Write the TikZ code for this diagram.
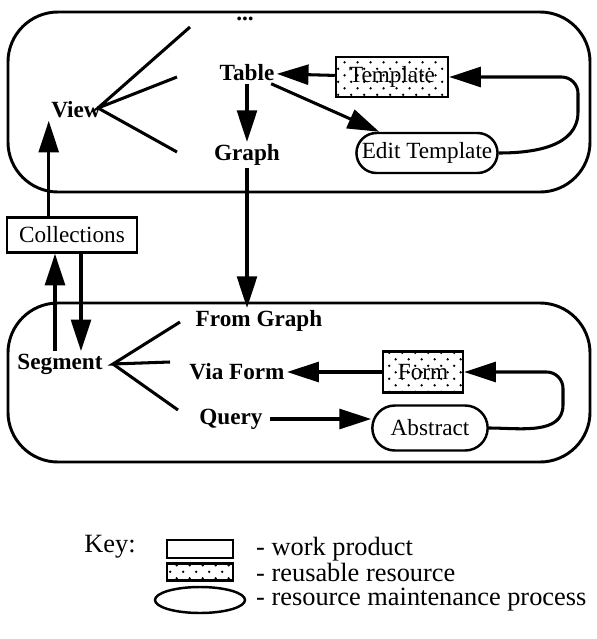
\documentclass[tikz,border=0pt]{standalone}
\usepackage{fontspec}
\setmainfont{Liberation Serif}
\usetikzlibrary{arrows.meta,shapes.misc,shapes.geometric,patterns.meta}

\tikzdeclarepattern{
  name=keydots,
  type=uncolored,
  bottom left={(0pt,0pt)},
  top right={(11pt,11pt)},
  tile size={(11pt,11pt)},
  code={
    \pgfpathcircle{\pgfpoint{2.75pt}{2.75pt}}{1.1pt}
    \pgfpathcircle{\pgfpoint{8.25pt}{8.25pt}}{1.1pt}
    \pgfusepath{fill}
  }
}

\tikzset{
  term/.style={font=\bfseries\fontsize{19.8}{23}\selectfont, inner sep=2pt},
  product/.style={draw, line width=2.1pt, font=\fontsize{19.8}{23}\selectfont, inner sep=2pt},
  resource/.style={product, pattern=keydots},
  process/.style={product, rounded rectangle},
  group/.style={draw, line width=2.5pt, rounded corners=1.5cm},
  conn/.style={line width=2.6pt},
  arr/.style={conn, -{Triangle[length=27pt,width=17pt]}},
  keytext/.style={anchor=west, font=\fontsize{22.5}{26}\selectfont, inner sep=0pt}
}

\begin{document}
\begin{tikzpicture}[x=0.03cm,y=-0.03cm]
  \useasboundingbox (0,0) rectangle (597,639);

  % the two groups
  \node[group, minimum width=17.46cm, minimum height=5.4cm] (viewgroup) at (299,102) {};
  \node[group, minimum width=17.46cm, minimum height=4.77cm] (seggroup) at (299,382.5) {};

  % upper group
  \node[term] (dots) at (245,19) {...};
  \node[term] (table) at (247,73) {Table};
  \node[term] (view) at (76,110) {View};
  \node[term] (graph) at (247,155) {Graph};
  \node[resource, minimum width=3.36cm, minimum height=1.2cm] (template) at (392,77) {Template};
  \node[process, minimum width=3.75cm, minimum height=1.2cm] (edit) at (427,153) {Edit Template};

  \coordinate (vfork) at (98,108);
  \coordinate (vdots) at (190,27);
  \coordinate (vtable) at (177,77);
  \coordinate (vgraph) at (177,152);
  \draw[conn] (vdots) -- (vfork) -- (vtable);
  \draw[conn] (vfork) -- (vgraph);

  \draw[arr] (template) -- (table);
  \draw[arr] (table) -- (graph);
  \draw[arr] (table) -- (edit);
  \coordinate (tside) at (578,112);
  \coordinate (tturn) at (578,77);
  \draw[arr] (edit.east) to[out=0,in=-90] (tside) [rounded corners=14pt] -- (tturn) -- (template.east);

  % between the groups
  \node[product, minimum width=3.9cm, minimum height=1.05cm] (coll) at (72,235) {Collections};

  % lower group
  \node[term] (segment) at (60,364) {Segment};
  \node[term] (fromgraph) at (259,321) {From Graph};
  \node[term] (viaform) at (237,372) {Via Form};
  \node[term] (query) at (231,419) {Query};
  \node[resource, minimum width=2.4cm, minimum height=1.23cm] (form) at (423,372) {Form};
  \node[process, minimum width=3.6cm, minimum height=1.35cm] (abstract) at (430,428) {Abstract};

  \coordinate (sfork) at (113,364);
  \coordinate (sfrom) at (180,322);
  \coordinate (svia) at (170,362);
  \coordinate (squery) at (178,410);
  \draw[conn] (sfrom) -- (sfork) -- (svia);
  \draw[conn] (sfork) -- (squery);

  \draw[arr] (form) -- (viaform);
  \draw[arr, shorten <=4pt] (query.east) -- (query.east -| abstract.west);
  \coordinate (fside) at (563,405);
  \coordinate (fturn) at (563,372);
  \draw[arr] (abstract.east) to[out=0,in=-90] (fside) [rounded corners=14pt] -- (fturn) -- (form.east);

  % links across the groups
  \draw[arr] (coll.north -| view.south west) -- (view.south west);
  \draw[arr] (graph) -- (graph |- fromgraph.north);
  \draw[arr] ([xshift=-0.15cm]segment.north) -- ([xshift=-0.15cm]segment.north |- coll.south);
  \draw[arr] ([xshift=0.27cm]coll.south) -- ([xshift=0.27cm]coll.south |- segment.north);

  % key
  \node[font=\fontsize{22.5}{26}\selectfont] (key) at (110,547) {Key:};
  \node[product, minimum width=1.98cm, minimum height=0.54cm] (kprod) at (200,549) {};
  \node[resource, minimum width=1.98cm, minimum height=0.51cm] (kres) at (200,572) {};
  \node[draw, ellipse, line width=2.1pt, minimum width=2.7cm, minimum height=0.78cm] (kproc) at (200,600) {};
  \node[keytext] (tprod) at (256,549) {- work product};
  \node[keytext] (tres) at (256,572) {- reusable resource};
  \node[keytext] (tproc) at (256,600) {- resource maintenance process};
\end{tikzpicture}
\end{document}
